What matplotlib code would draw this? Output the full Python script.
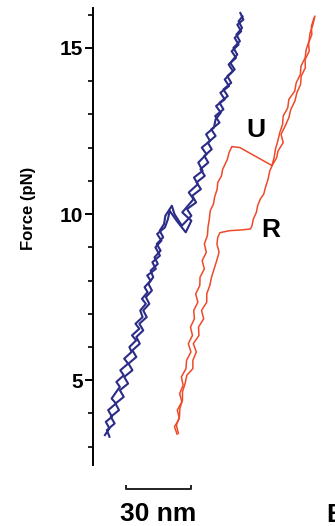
import matplotlib
matplotlib.use("Agg")
import matplotlib.pyplot as plt
from matplotlib.ticker import MultipleLocator
import matplotlib.transforms as mtransforms

plt.rcParams['font.family'] = ['Liberation Sans', 'DejaVu Sans']
plt.rcParams['font.weight'] = 'bold'

# blue trace, (extension nm, force pN): stretch then relax
blue_up = [(5.5, 3.35), (7.6, 3.55), (5.9, 3.75), (8.8, 3.9), (7.0, 4.1), (10.6, 4.3), (8.6, 4.45),
           (10.2, 4.6), (12.4, 4.8), (10.8, 4.95), (14.2, 5.15), (12.6, 5.3), (16.2, 5.5),
           (14.4, 5.65), (17.8, 5.85), (16.8, 6.0), (19.9, 6.2), (18.0, 6.35), (21.4, 6.55),
           (19.6, 6.7), (22.9, 6.9), (21.8, 7.1), (24.4, 7.3), (22.6, 7.45), (25.2, 7.65),
           (23.8, 7.8), (26.6, 8.0), (25.0, 8.15), (29.0, 8.35), (27.4, 8.55), (30.9, 8.75),
           (28.8, 9.0), (31.6, 9.2), (29.6, 9.4), (33.2, 9.6), (34.6, 9.85), (35.4, 10.1),
           (38.6, 9.8), (42.8, 9.45), (45.4, 9.8), (41.2, 10.05), (43.8, 10.25), (46.4, 10.45),
           (44.2, 10.65), (48.4, 10.9), (46.6, 11.1), (50.6, 11.3), (48.6, 11.55), (52.4, 11.8),
           (50.2, 12.0), (54.0, 12.2), (52.2, 12.4), (55.8, 12.6), (56.6, 12.85), (59.0, 13.05),
           (56.8, 13.25), (60.8, 13.45), (58.8, 13.65), (62.8, 13.85), (60.8, 14.05), (64.6, 14.3),
           (62.6, 14.5), (66.0, 14.7), (64.0, 14.9), (67.2, 15.1), (65.4, 15.3), (68.4, 15.5),
           (66.6, 15.7), (69.4, 15.85), (68.0, 16.05)]
blue_dn = [(69.0, 15.95), (67.2, 15.8), (68.8, 15.6), (66.2, 15.4), (67.8, 15.2), (64.8, 15.0),
           (66.6, 14.8), (63.4, 14.55), (65.4, 14.35), (62.0, 14.15), (63.8, 13.95), (60.2, 13.75),
           (62.2, 13.55), (58.4, 13.35), (60.2, 13.15), (56.4, 12.95), (58.4, 12.75), (54.6, 12.55),
           (56.6, 12.35), (53.0, 12.15), (54.8, 11.95), (51.4, 11.75), (53.2, 11.55), (49.6, 11.35),
           (51.6, 11.15), (47.8, 10.95), (49.8, 10.75), (45.8, 10.55), (47.6, 10.35), (43.4, 10.15),
           (45.4, 9.95), (41.0, 9.65), (37.6, 10.0), (36.4, 10.25), (33.4, 9.95), (32.8, 9.7),
           (30.8, 9.5), (32.4, 9.3), (29.4, 9.1), (31.2, 8.9), (28.4, 8.7), (29.9, 8.5), (26.6, 8.3),
           (27.8, 8.1), (25.6, 7.9), (27.2, 7.7), (24.4, 7.5), (26.0, 7.3), (23.2, 7.1), (24.8, 6.9),
           (21.4, 6.7), (23.2, 6.5), (20.0, 6.3), (21.6, 6.1), (18.2, 5.9), (20.0, 5.7), (16.4, 5.5),
           (18.2, 5.3), (14.4, 5.1), (16.2, 4.9), (12.4, 4.7), (14.2, 4.5), (10.4, 4.3), (12.0, 4.1),
           (8.2, 3.9), (10.0, 3.7), (6.4, 3.5), (7.6, 3.3)]

# red trace: stretch (unfolding rip U), then relax (refolding R)
red_up = [(38.8, 3.38), (37.6, 3.6), (39.9, 3.85), (38.9, 4.1), (41.0, 4.35), (40.0, 4.6),
          (41.6, 4.85), (40.8, 5.1), (42.9, 5.35), (43.2, 5.6), (45.2, 5.85), (44.0, 6.1),
          (45.9, 6.35), (45.0, 6.6), (46.8, 6.85), (46.5, 7.1), (48.4, 7.35), (47.4, 7.6),
          (49.3, 7.85), (49.4, 8.1), (51.4, 8.35), (50.4, 8.6), (52.3, 8.85), (51.4, 9.1),
          (52.8, 9.35), (53.1, 9.62), (53.7, 9.85), (54.1, 10.1), (55.6, 10.3), (56.1, 10.5),
          (57.3, 10.75), (57.6, 10.95), (59.3, 11.15), (59.8, 11.34), (62.0, 11.64), (62.8, 11.85),
          (64.1, 12.03), (67.8, 12.0), (82.6, 11.46), (83.6, 11.7), (84.2, 11.95), (85.3, 12.2),
          (86.2, 12.45), (87.5, 12.7), (87.8, 12.95), (89.9, 13.2), (90.4, 13.45), (93.1, 13.7),
          (93.8, 13.95), (95.7, 14.2), (96.0, 14.45), (97.9, 14.7), (98.4, 14.95), (99.7, 15.2),
          (100.2, 15.45), (101.5, 15.7), (102.4, 15.95)]
red_dn = [(102.0, 15.9), (100.8, 15.65), (101.0, 15.4), (99.5, 15.15), (99.8, 14.9), (97.9, 14.65),
          (98.0, 14.4), (96.1, 14.15), (95.8, 13.9), (94.1, 13.65), (93.2, 13.4), (91.3, 13.15),
          (90.4, 12.9), (88.7, 12.65), (86.8, 12.4), (87.8, 12.15), (85.4, 11.9), (84.8, 11.7),
          (83.0, 11.5), (81.6, 11.3), (80.8, 11.05), (79.6, 10.8), (78.8, 10.6), (77.2, 10.45),
          (76.0, 10.25), (75.4, 10.05), (74.0, 9.85), (73.4, 9.65), (72.6, 9.55), (68.0, 9.52),
          (63.0, 9.5), (58.6, 9.44), (57.6, 9.3), (57.2, 9.1), (58.2, 8.85), (57.1, 8.6),
          (55.9, 8.35), (54.7, 8.1), (53.9, 7.85), (52.5, 7.6), (52.5, 7.35), (50.1, 7.1),
          (51.1, 6.85), (48.7, 6.6), (48.9, 6.35), (46.3, 6.1), (47.7, 5.85), (46.1, 5.6),
          (46.1, 5.35), (43.3, 5.15), (42.5, 4.9), (41.3, 4.65), (41.3, 4.4), (40.1, 4.15),
          (39.9, 3.9), (38.5, 3.65), (39.4, 3.4)]

y_major = [5, 10, 15]
bar_nm = 30

blue = '#2b2b88'
red = '#ee4a2a'

fig = plt.figure(figsize=(3.35, 5.26), dpi=100)
ax = fig.add_axes([93 / 335, 61 / 526, 242 / 335, 457 / 526])

for trace, col, lw in [(blue_up, blue, 1.5), (blue_dn, blue, 1.5), (red_up, red, 1.1), (red_dn, red, 1.1)]:
    xs = [p[0] for p in trace]
    fs = [p[1] for p in trace]
    ax.plot(xs, fs, color=col, lw=lw)

ax.set_xlim(0, 111.7)
ax.set_ylim(2.45, 16.2)

for s in ['top', 'right', 'bottom']:
    ax.spines[s].set_visible(False)
ax.spines['left'].set_linewidth(1.4)
ax.set_xticks([])
ax.set_yticks(y_major)
ax.yaxis.set_minor_locator(MultipleLocator(1))
ax.tick_params(axis='y', which='major', length=6, width=1.4, pad=1, labelsize=15)
ax.tick_params(axis='y', which='minor', length=3.6, width=1.2)
for lab in ax.get_yticklabels():
    lab.set_fontweight('bold')

ax.text(75.0, 12.54, 'U', fontsize=19, fontweight='bold', ha='center', va='center')
ax.text(82.1, 9.53, 'R', fontsize=19, fontweight='bold', ha='center', va='center')

# scale bar
trans = mtransforms.blended_transform_factory(ax.transData, ax.transAxes)
x0, x1 = 15.2, 15.2 + bar_nm
yb, cap = -0.0525, 0.007
ax.plot([x0, x0, x1, x1], [yb + cap, yb, yb, yb + cap], color='#222222', lw=1.4,
        transform=trans, clip_on=False)
ax.text((x0 + x1) / 2, -0.082, '30 nm', transform=trans, ha='center', va='top',
        fontsize=19, fontweight='bold')

fig.text(28 / 335, 1 - 208 / 526, 'Force (pN)', rotation=90, ha='center', va='center',
         fontsize=12, fontweight='bold')
fig.text(326 / 335, 1 - 503 / 526, 'B', ha='left', va='top', fontsize=19, fontweight='bold')

fig.savefig('out.png', dpi=100)
